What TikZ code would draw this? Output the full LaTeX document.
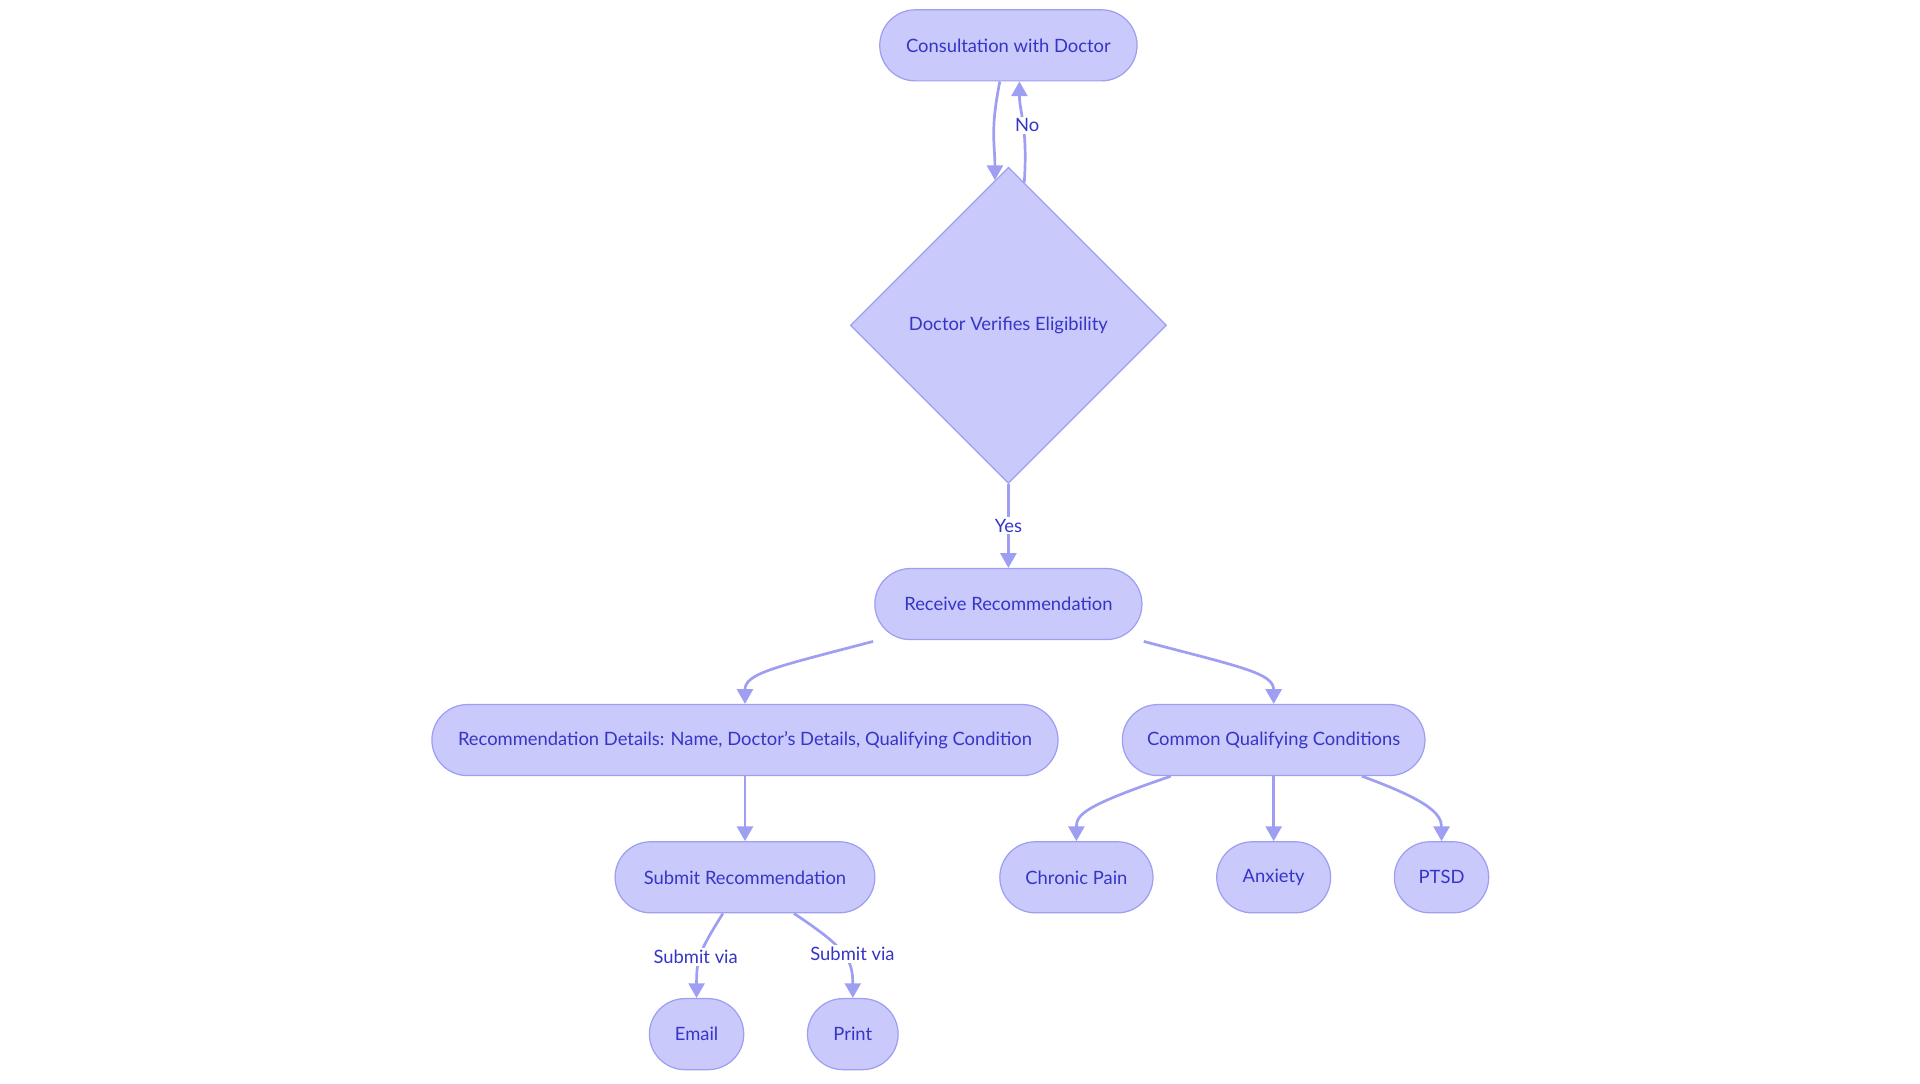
\documentclass[tikz,border=0pt]{standalone}
\usepackage{fontspec}
\setmainfont{Lato}
\usetikzlibrary{shapes.geometric,arrows.meta,calc}
\definecolor{nfill}{HTML}{C9C9FB}
\definecolor{nline}{HTML}{9E9EF2}
\definecolor{ntext}{HTML}{3535C8}
\begin{document}
\begin{tikzpicture}[x=1pt,y=-1pt,
  box/.style={draw=nline,fill=nfill,line width=1pt,rounded corners=29pt,minimum height=58pt,inner sep=0pt,text=ntext,font=\fontsize{15}{17}\selectfont},
  dia/.style={draw=nline,fill=nfill,line width=1pt,diamond,minimum width=258pt,minimum height=258pt,inner sep=0pt,text=ntext,font=\fontsize{15}{17}\selectfont},
  conn/.style={draw=nline,line width=2.2pt,-{Triangle[length=12pt,width=13pt]}},
  lbl/.style={fill=white,text=ntext,inner sep=1.5pt,font=\fontsize{15}{17}\selectfont}]
\useasboundingbox (0,0) rectangle (1567,884);
\node[box,minimum width=210pt] (cons) at (823,37) {Consultation with Doctor};
\node[dia] (ver) at (823,265.5) {Doctor Verifies Eligibility};
\node[box,minimum width=218pt] (recv) at (823,493) {Receive Recommendation};
\node[box,minimum width=511pt] (det) at (608,604) {Recommendation Details: Name, Doctor’s Details, Qualifying Condition};
\node[box,minimum width=247pt] (cqc) at (1039.5,604) {Common Qualifying Conditions};
\node[box,minimum width=212pt] (sub) at (608,716) {Submit Recommendation};
\node[box,minimum width=125pt] (pain) at (878.5,716) {Chronic Pain};
\node[box,minimum width=93pt] (anx) at (1039.5,716) {Anxiety};
\node[box,minimum width=77pt] (ptsd) at (1176.5,716) {PTSD};
\node[box,minimum width=77pt] (mail) at (568.5,844) {Email};
\node[box,minimum width=74pt] (prt) at (696,844) {Print};
% edges
\draw[conn] ([xshift=-7pt]cons.south) .. controls ($([xshift=-7pt]cons.south)+(-8,40)$) and ($($(ver.north)!0.085!(ver.west)$)+(0,-30)$) .. ($(ver.north)!0.085!(ver.west)$);
\draw[conn] ($(ver.north)!0.1!(ver.east)$) .. controls ($($(ver.north)!0.1!(ver.east)$)+(3,-45)$) and ($([xshift=9pt]cons.south)+(0,25)$) .. ([xshift=9pt]cons.south)
  node[lbl,pos=0.47,xshift=3pt] {No};
\draw[conn] (ver.south) -- node[lbl] {Yes} (recv.north);
\draw[conn] ([xshift=-1pt,yshift=-1pt]recv.south west) .. controls ($([xshift=-1pt,yshift=-1pt]recv.south west)+(-80,21)$) and ($(det.north)+(0,-25)$) .. (det.north);
\draw[conn] ([xshift=1pt,yshift=-1pt]recv.south east) .. controls ($([xshift=1pt,yshift=-1pt]recv.south east)+(80,21)$) and ($(cqc.north)+(0,-25)$) .. (cqc.north);
\draw[conn] (det.south) -- (sub.north);
\draw[conn] ([xshift=-84pt]cqc.south) .. controls ($([xshift=-84pt]cqc.south)+(-70,24)$) and ($(pain.north)+(0,-22)$) .. (pain.north);
\draw[conn] (cqc.south) -- (anx.north);
\draw[conn] ([xshift=72pt]cqc.south) .. controls ($([xshift=72pt]cqc.south)+(55,20)$) and ($(ptsd.north)+(0,-22)$) .. (ptsd.north);
\draw[conn] ([xshift=-18pt]sub.south) .. controls ($([xshift=-18pt]sub.south)+(-20,32)$) and ($(mail.north)+(0,-32)$) .. (mail.north)
  node[lbl,pos=0.5,xshift=-4pt,yshift=-1pt] {Submit via};
\draw[conn] ([xshift=40pt]sub.south) .. controls ($([xshift=40pt]sub.south)+(42,28)$) and ($(prt.north)+(0,-32)$) .. (prt.north)
  node[lbl,pos=0.5,xshift=8pt] {Submit via};
\end{tikzpicture}
\end{document}
